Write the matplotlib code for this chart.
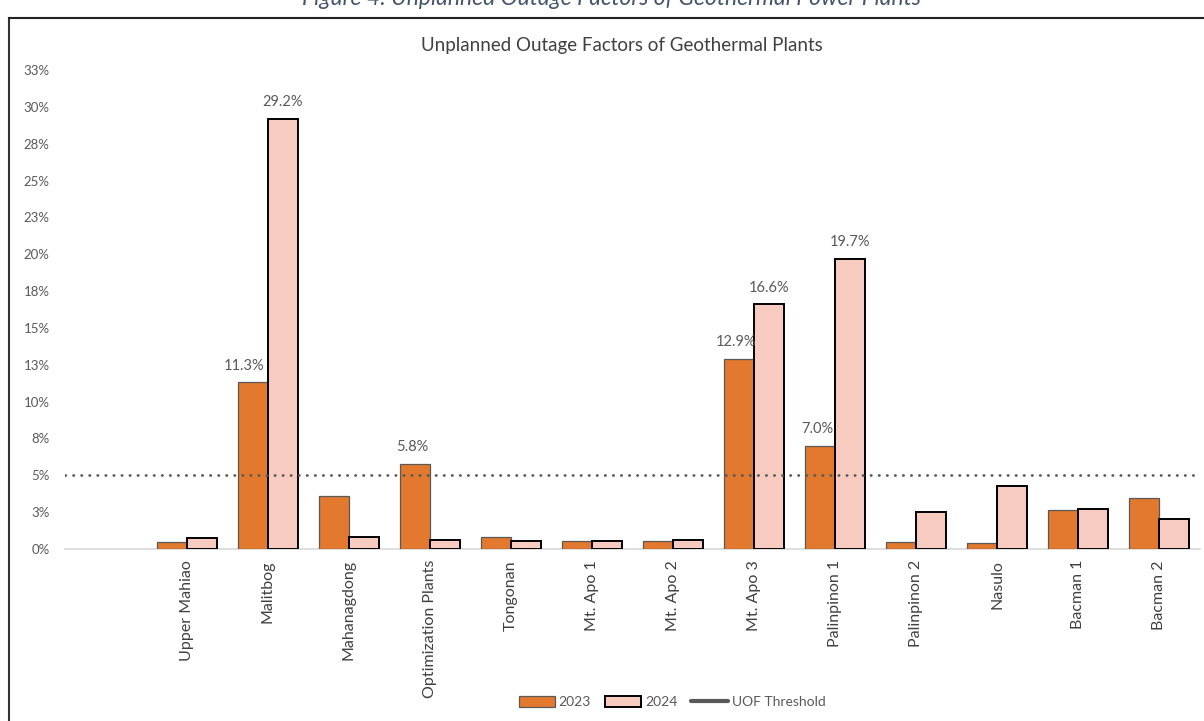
import matplotlib
matplotlib.use("Agg")
import matplotlib.pyplot as plt
from matplotlib.patches import Patch
from matplotlib.lines import Line2D
from matplotlib.ticker import FuncFormatter, MultipleLocator

plt.rcParams['font.family'] = ['Lato', 'DejaVu Sans']

plants = ["Upper Mahiao", "Malitbog", "Mahanagdong", "Optimization Plants", "Tongonan",
          "Mt. Apo 1", "Mt. Apo 2", "Mt. Apo 3", "Palinpinon 1", "Palinpinon 2",
          "Nasulo", "Bacman 1", "Bacman 2"]
uof_2023 = [0.45, 11.3, 3.62, 5.8, 0.79, 0.54, 0.54, 12.9, 7.0, 0.45, 0.38, 2.66, 3.47]
uof_2024 = [0.75, 29.2, 0.81, 0.59, 0.56, 0.54, 0.59, 16.6, 19.7, 2.53, 4.28, 2.71, 2.03]
labelled_2023 = {"Malitbog", "Optimization Plants", "Mt. Apo 3", "Palinpinon 1"}
labelled_2024 = {"Malitbog", "Mt. Apo 3", "Palinpinon 1"}
threshold = 5.0

c23 = "#E2792F"
c24 = "#F7CBBF"
grey = "#595959"
dark = "#404040"

W, H = 1204, 721
fig = plt.figure(figsize=(W / 100, H / 100), dpi=100)
ax = fig.add_axes([65 / W, 1 - 549 / H, (1200 - 65) / W, (549 - 70) / H])

x = list(range(len(plants)))
bw = 0.37
ax.bar([i - bw / 2 for i in x], uof_2023, width=bw, color=c23,
       edgecolor=grey, linewidth=0.9, zorder=3)
ax.bar([i + bw / 2 for i in x], uof_2024, width=bw, color=c24,
       edgecolor="black", linewidth=1.4, zorder=3)

for i, p in enumerate(plants):
    if p in labelled_2023:
        dx = -6 if p == "Malitbog" else -2
        ax.annotate(f"{uof_2023[i]:.1f}%", (i - bw / 2, uof_2023[i]), xytext=(dx, 7),
                    textcoords="offset points", ha="center", va="bottom",
                    fontsize=10.5, color=grey)
    if p in labelled_2024:
        ax.annotate(f"{uof_2024[i]:.1f}%", (i + bw / 2, uof_2024[i]), xytext=(0, 7),
                    textcoords="offset points", ha="center", va="bottom",
                    fontsize=10.5, color=grey)

ax.axhline(threshold, color=grey, linewidth=2, linestyle=(0, (0.1, 2.8)),
           dash_capstyle="round", zorder=4)

ax.set_xlim(-1.5, len(plants) - 0.5)
ax.set_ylim(0, 32.5)
ax.yaxis.set_major_locator(MultipleLocator(2.5))
ax.yaxis.set_major_formatter(FuncFormatter(lambda v, p: f"{int(v + 0.5)}%" if v > 0 else "0%"))
ax.set_xticks(x)
ax.set_xticklabels(plants, rotation=90, fontsize=11.5, color=dark)
ax.tick_params(axis="x", length=0, pad=8)
ax.tick_params(axis="y", length=0, pad=11, labelsize=9.5, labelcolor=grey)
for s in ["top", "right", "left"]:
    ax.spines[s].set_visible(False)
ax.spines["bottom"].set_color("#D9D9D9")
ax.spines["bottom"].set_linewidth(1.2)

fig.text(622 / W, 1 - 45 / H, "Unplanned Outage Factors of Geothermal Plants",
         ha="center", va="center", fontsize=13.5, color=dark)
fig.text(611 / W, 1 - 5 / H, "Figure 4: Unplanned Outage Factors of Geothermal Power Plants",
         ha="center", va="baseline", fontsize=16.5, style="italic", color="#44546A")

# outer frame
fig.add_artist(Line2D([8.5 / W, 8.5 / W], [0, 1 - 18 / H], transform=fig.transFigure,
                      color="#333333", linewidth=1.5))
fig.add_artist(Line2D([8.5 / W, 1], [1 - 18 / H, 1 - 18 / H], transform=fig.transFigure,
                      color="#222222", linewidth=1.5))

handles = [Patch(facecolor=c23, edgecolor=grey, linewidth=0.9, label="2023"),
           Patch(facecolor=c24, edgecolor="black", linewidth=1.4, label="2024"),
           Line2D([0], [0], color=grey, linewidth=3, solid_capstyle="round", label="UOF Threshold")]
fig.legend(handles=handles, loc="center", bbox_to_anchor=(672 / W, 19 / H), ncol=3,
           frameon=False, fontsize=10, handlelength=2.6, handleheight=0.8,
           handletextpad=0.3, columnspacing=1.0, labelcolor=grey)

fig.savefig("out.png", dpi=100)
